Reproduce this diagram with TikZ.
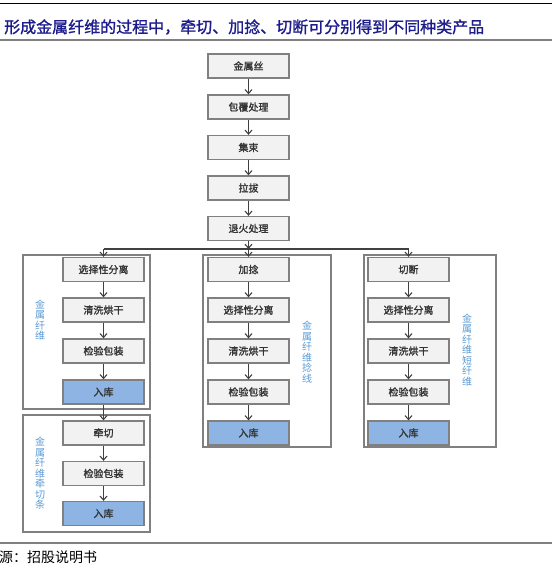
\documentclass[tikz,border=0pt]{standalone}
\usepackage{fontspec}
\setmainfont{Noto Sans CJK SC}
\newfontfamily\cjkb[FakeBold=1.3]{Noto Sans CJK SC}
\usetikzlibrary{arrows.meta}
\definecolor{navy}{RGB}{28,28,140}
\definecolor{boxfill}{RGB}{242,242,242}
\definecolor{boxline}{RGB}{128,128,128}
\definecolor{bluefill}{RGB}{141,180,226}
\definecolor{lblue}{RGB}{91,155,213}
\definecolor{arrowc}{RGB}{64,64,64}
\begin{document}
\begin{tikzpicture}[x=1pt,y=-1pt,
  box/.style={draw=boxline,line width=1.3pt,fill=boxfill,minimum width=81pt,minimum height=24pt,inner sep=0pt,font=\cjkb\fontsize{10}{12}\selectfont,text=black!80},
  bluebox/.style={box,fill=bluefill},
  frame/.style={draw=boxline,line width=1.3pt,inner sep=0pt},
  vlabel/.style={text=lblue,align=center,font=\fontsize{10}{10.5}\selectfont,inner sep=0pt},
  arr/.style={draw=arrowc,line width=1.1pt,-{Straight Barb[length=4pt,width=7pt,line width=1.1pt]}},
  conn/.style={draw=arrowc,line width=1.1pt}]
\useasboundingbox (0,0) rectangle (552,565);
\fill[white] (0,0) rectangle (552,565);
% header lines
\coordinate (hl) at (0,3.5); \coordinate (hr) at (552,3.5);
\draw[black,line width=1pt] (hl) -- (hr);
\node[anchor=west,text=navy,font=\cjkb\fontsize{16}{18}\selectfont,inner sep=0pt] (title) at (4,27) {形成金属纤维的过程中，牵切、加捻、切断可分别得到不同种类产品};
\coordinate (tl) at (0,40); \coordinate (tr) at (552,40);
\draw[black!50,line width=1.8pt] (tl) -- (tr);
\coordinate (bl) at (0,543); \coordinate (br) at (552,543);
\draw[black!50,line width=1.8pt] (bl) -- (br);
\node[anchor=west,font=\fontsize{14}{16}\selectfont,inner sep=0pt] (src) at (-1,557) {源：招股说明书};
% main column
\node[box] (m1) at (248.5,66) {金属丝};
\node[box] (m2) at (248.5,107) {包覆处理};
\node[box] (m3) at (248.5,147.5) {集束};
\node[box] (m4) at (248.5,188) {拉拔};
\node[box] (m5) at (248.5,228.5) {退火处理};
\draw[arr] (m1) -- (m2);
\draw[arr] (m2) -- (m3);
\draw[arr] (m3) -- (m4);
\draw[arr] (m4) -- (m5);
% frames
\node[frame,minimum width=127pt,minimum height=154pt] (g1) at (86.5,332) {};
\node[frame,minimum width=127pt,minimum height=117pt] (g2) at (86.5,473.5) {};
\node[frame,minimum width=128pt,minimum height=192pt] (g3) at (267,351) {};
\node[frame,minimum width=132pt,minimum height=192pt] (g4) at (430,351) {};
% left group
\node[box] (a1) at (103.5,269.5) {选择性分离};
\node[box] (a2) at (103.5,310) {清洗烘干};
\node[box] (a3) at (103.5,351) {检验包装};
\node[bluebox] (a4) at (103.5,392) {入库};
\node[box] (b1) at (103.5,433) {牵切};
\node[box] (b2) at (103.5,473.5) {检验包装};
\node[bluebox] (b3) at (103.5,513.5) {入库};
% middle group
\node[box] (c1) at (248.5,269.5) {加捻};
\node[box] (c2) at (248.5,310) {选择性分离};
\node[box] (c3) at (248.5,351) {清洗烘干};
\node[box] (c4) at (248.5,392) {检验包装};
\node[bluebox] (c5) at (248.5,433) {入库};
% right group
\node[box] (d1) at (408.5,269.5) {切断};
\node[box] (d2) at (408.5,310) {选择性分离};
\node[box] (d3) at (408.5,351) {清洗烘干};
\node[box] (d4) at (408.5,392) {检验包装};
\node[bluebox] (d5) at (408.5,433) {入库};
% labels
\node[vlabel] (la) at (40,320) {金\\属\\纤\\维};
\node[vlabel] (lb) at (40,473.5) {金\\属\\纤\\维\\牵\\切\\条};
\node[vlabel] (lc) at (307,352) {金\\属\\纤\\维\\捻\\线};
\node[vlabel] (ld) at (467,350) {金\\属\\纤\\维\\短\\纤\\维};
% bus
\coordinate (busm) at (248.5,249);
\coordinate (busl) at (103.5,249);
\coordinate (busr) at (408.5,249);
\draw[arr] (m5) -- (busm);
\draw[conn] (busl) -- (busr);
\draw[arr] (busl) -- (a1);
\draw[arr] (busm) -- (c1);
\draw[arr] (busr) -- (d1);
% chains
\draw[arr] (a1) -- (a2);
\draw[arr] (a2) -- (a3);
\draw[arr] (a3) -- (a4);
\draw[arr] (a4) -- (b1);
\draw[arr] (b1) -- (b2);
\draw[arr] (b2) -- (b3);
\draw[arr] (c1) -- (c2);
\draw[arr] (c2) -- (c3);
\draw[arr] (c3) -- (c4);
\draw[arr] (c4) -- (c5);
\draw[arr] (d1) -- (d2);
\draw[arr] (d2) -- (d3);
\draw[arr] (d3) -- (d4);
\draw[arr] (d4) -- (d5);
\end{tikzpicture}
\end{document}
